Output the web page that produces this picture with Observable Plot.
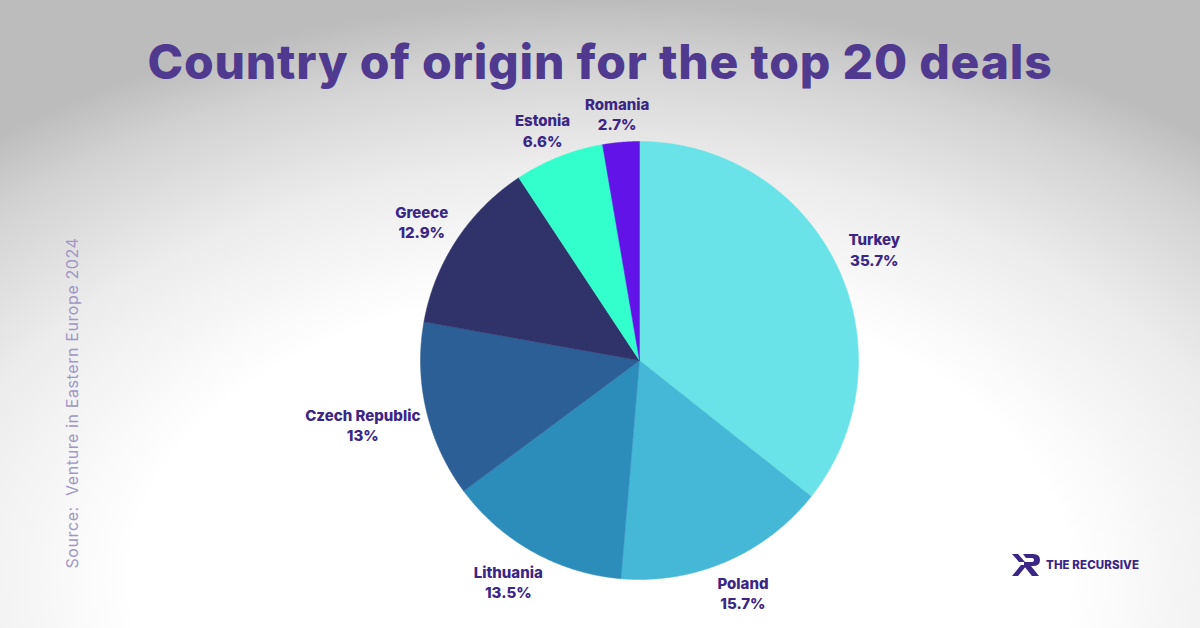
<!DOCTYPE html>
<html><head><meta charset="utf-8">
<script src="https://cdn.jsdelivr.net/npm/d3@7"></script>
<script src="https://cdn.jsdelivr.net/npm/@observablehq/plot@0.6"></script>
<style>
html,body{margin:0;padding:0;}
#wrap{position:relative;width:1200px;height:628px;overflow:hidden;
 background:radial-gradient(ellipse 78% 92% at 50% 92%, #ffffff 0%, #ffffff 50%, #ececec 72%, #d2d2d2 90%, #bcbcbc 100%);
 font-family:Inter,"Open Sans",sans-serif;}
#title{position:absolute;left:0;top:33px;width:1200px;text-align:center;font-size:48px;font-weight:800;color:#4f3a8f;white-space:nowrap;line-height:58px;}
#chart{position:absolute;left:0;top:0;}
#source{position:absolute;left:72px;top:403px;transform:translate(-50%,-50%) rotate(-90deg);white-space:nowrap;font-size:16px;letter-spacing:0.6px;color:#9f98c8;font-family:Inter,sans-serif;font-weight:400;}
#logo{position:absolute;left:1011px;top:552px;display:flex;align-items:center;gap:5px;}
#logo span{font-size:11.5px;font-weight:800;color:#3b2686;letter-spacing:0.1px;}
</style></head>
<body>
<div id="wrap">
 <div id="chart"></div>
 <div id="title">Country of origin for the top 20 deals</div>
 <div id="source">Source:&nbsp; Venture in Eastern Europe 2024</div>
 <div id="logo"><svg width="30" height="26" viewBox="0 0 30 26"><path d="M1 2 L7 2 L14 10 L8 10 Z M1 24 L10 13 L16 13 L7 24 Z M12 2 L22 2 Q29 2 29 8 Q29 14 22 14 L20 14 L28 24 L21 24 L13 14 L13 10 L21 10 Q23 10 23 8 Q23 6 21 6 L15 6 Z" fill="#3b2686"/></svg><span>THE RECURSIVE</span></div>
</div>
<script>
const countries = ["Turkey","Poland","Lithuania","Czech Republic","Greece","Estonia","Romania"];
const shares = [35.7,15.7,13.5,13,12.9,6.6,2.7];
const shareLabels = ["35.7%","15.7%","13.5%","13%","12.9%","6.6%","2.7%"];
const colors = ["#69e3e8","#44b8d6","#2d8dba","#2c5f96","#30336a","#33ffcc","#6214e8"];

const W = 1200, H = 628, cx = 639, cy = 360, R = 219;
const rows = countries.map((c,i)=>({country:c, share:shares[i], label:shareLabels[i]}));
const arcs = d3.pie().sort(null).value(d=>d.share)(rows);

const pts = [];
for (const a of arcs) {
  const n = Math.max(4, Math.ceil((a.endAngle - a.startAngle) / 0.005));
  pts.push({country:a.data.country, x:0, y:0});
  for (let k=0;k<=n;k++){
    const t = a.startAngle + (a.endAngle - a.startAngle)*k/n;
    pts.push({country:a.data.country, x:Math.sin(t), y:Math.cos(t)});
  }
  pts.push({country:a.data.country, x:0, y:0});
}
const labels = arcs.map(a=>{
  const m = (a.startAngle + a.endAngle)/2;
  const half = a.data.country.length*8.4/2/R;
  const up = Math.cos(m) >= 0;
  const ry = up ? 1.1 : 1.11;
  return {text: a.data.country + "\n" + a.data.label,
          x: 1.11*Math.sin(m) + Math.sin(m)*half*0.7,
          y: ry*Math.cos(m) + (up ? 0.03 : -0.04)};
});

const chart = Plot.plot({
  width: W, height: H,
  margin: 0,
  style: {background: "transparent", overflow: "visible"},
  x: {domain: [-cx/R, (W-cx)/R], axis: null},
  y: {domain: [-(H-cy)/R, cy/R], axis: null},
  color: {domain: countries, range: colors},
  marks: [
    Plot.line(pts, {x:"x", y:"y", z:"country", fill:"country", stroke:"country", strokeWidth:0.5, curve:"linear"}),
    Plot.text(labels, {x:"x", y:"y", text:"text", fill:"#3b2686", fontSize:15, fontWeight:800, lineHeight:1.35, fontFamily:"Inter, sans-serif"})
  ]
});
document.getElementById("chart").appendChild(chart);

const t = document.getElementById("title");
const span = document.createElement("span"); span.textContent = t.textContent; t.textContent=""; t.appendChild(span);
const w = span.getBoundingClientRect().width;
const target = 905;
const ls = (target - w) / (span.textContent.length);
span.style.letterSpacing = ls + "px";
</script>
</body></html>
